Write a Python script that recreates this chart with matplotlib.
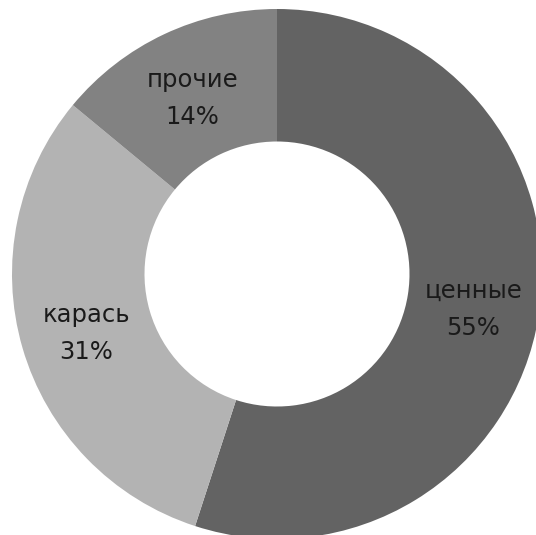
import numpy as np
import matplotlib
matplotlib.use('Agg')
import matplotlib.pyplot as plt

categories = ['ценные', 'карась', 'прочие']
shares = [55, 31, 14]
colors = ['#636363', '#b3b3b3', '#828282']

W, H = 536, 535
cx, cy, R = 277, 274, 265  # pixel center and outer radius
ring = 0.5

fig = plt.figure(figsize=(W / 100, H / 100), dpi=100)
ax = fig.add_axes([0, 0, 1, 1])

wedges, _ = ax.pie(shares, colors=colors, startangle=90, counterclock=False,
                   radius=1.0, wedgeprops=dict(width=ring, linewidth=0))

# labels sit in the middle of the ring, nudged a few px down
r_lab = 1.0 - ring / 2
dy = -4.0 / R
for w, name, val in zip(wedges, categories, shares):
  ang = np.deg2rad((w.theta1 + w.theta2) / 2)
  ax.text(r_lab * np.cos(ang), r_lab * np.sin(ang) + dy, '%s\n%d%%' % (name, val),
          ha='center', va='center', fontsize=17.5, color='#1a1a1a',
          linespacing=1.7, family='DejaVu Sans')

ax.set_xlim(-cx / R, (W - cx) / R)
ax.set_ylim(-(H - cy) / R, cy / R)
ax.set_aspect('auto')
ax.axis('off')

fig.savefig('out.png', dpi=100, facecolor='white')
